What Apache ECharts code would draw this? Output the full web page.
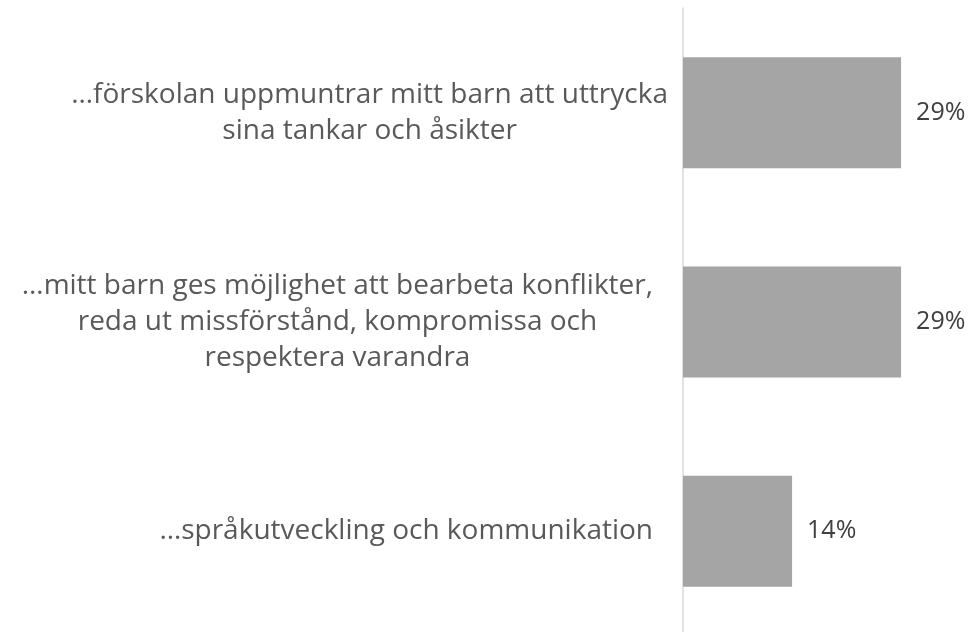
<!DOCTYPE html>
<html>
<head>
<meta charset="utf-8">
<script src="https://cdn.jsdelivr.net/npm/echarts@6/dist/echarts.min.js"></script>
<style>
html,body{margin:0;padding:0;background:#fff;}
#chart{width:973px;height:632px;}
</style>
</head>
<body>
<div id="chart"></div>
<script>
const categories = [
  '…förskolan uppmuntrar mitt barn att uttrycka\nsina tankar och åsikter',
  '…mitt barn ges möjlighet att bearbeta konflikter,\nreda ut missförstånd, kompromissa och\nrespektera varandra',
  '…språkutveckling och kommunikation'
];
const values = [28.57, 28.57, 14.29];
const labelPadRight = [0, 15, 15];

const chart = echarts.init(document.getElementById('chart'));
chart.setOption({
  animation: false,
  backgroundColor: '#ffffff',
  textStyle: { fontFamily: 'Open Sans' },
  grid: { left: 683, width: 229, top: 8, height: 628, containLabel: false, outerBoundsMode: 'none' },
  xAxis: {
    type: 'value', min: 0, max: 30,
    show: false
  },
  yAxis: {
    type: 'category',
    inverse: true,
    data: categories.map(function (c, i) {
      return { value: c, textStyle: { padding: [0, labelPadRight[i], 0, 0] } };
    }),
    axisLine: { show: true, lineStyle: { color: '#d9d9d9', width: 1.5 } },
    axisTick: { show: false },
    axisLabel: {
      margin: 15,
      align: 'right',
      color: '#595959',
      fontFamily: 'Open Sans',
      fontSize: 28,
      lineHeight: 36,
      formatter: function (v) {
        return v.split('\n').map(function (l) { return '{c|' + l + '}'; }).join('\n');
      },
      rich: {
        c: { align: 'center', color: '#595959', fontFamily: 'Open Sans', fontSize: 28, lineHeight: 36 }
      }
    }
  },
  series: [{
    type: 'bar',
    data: values,
    barCategoryGap: '47%',
    itemStyle: { color: '#a5a5a5' },
    label: {
      show: true,
      position: 'right',
      distance: 15,
      color: '#404040',
      fontFamily: 'Open Sans',
      fontSize: 25,
      formatter: function (p) { return Math.round(p.value) + '%'; }
    }
  }]
});
</script>
</body>
</html>
